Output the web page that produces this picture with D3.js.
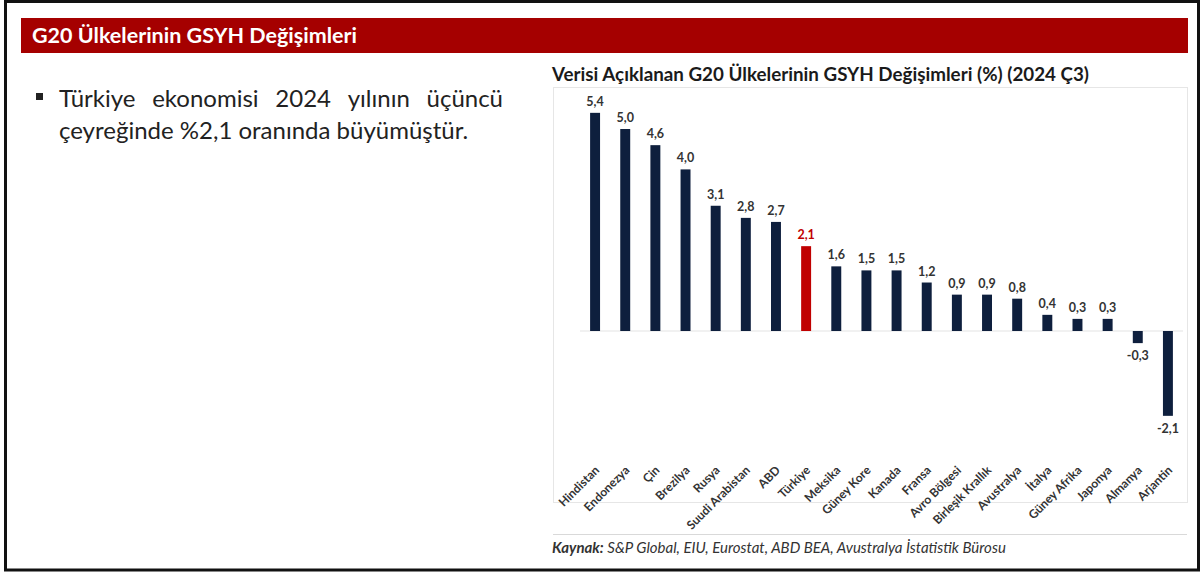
<!DOCTYPE html>
<html><head><meta charset="utf-8">
<script src="https://cdn.jsdelivr.net/npm/d3@7"></script>
<style>
html,body{margin:0;padding:0;background:#fff;}
svg{display:block;}
</style></head>
<body>
<svg id="c" width="1200" height="572"></svg>
<script>
const categories = ["Hindistan","Endonezya","Çin","Brezilya","Rusya","Suudi Arabistan","ABD","Türkiye","Meksika","Güney Kore","Kanada","Fransa","Avro Bölgesi","Birleşik Krallık","Avustralya","İtalya","Güney Afrika","Japonya","Almanya","Arjantin"];
const values = [5.4,5.0,4.6,4.0,3.1,2.8,2.7,2.1,1.6,1.5,1.5,1.2,0.9,0.9,0.8,0.4,0.3,0.3,-0.3,-2.1];
const valueLabels = ["5,4","5,0","4,6","4,0","3,1","2,8","2,7","2,1","1,6","1,5","1,5","1,2","0,9","0,9","0,8","0,4","0,3","0,3","-0,3","-2,1"];
const highlight = "Türkiye";
const headerText = "G20 Ülkelerinin GSYH Değişimleri";
const bulletLine1 = ["Türkiye","ekonomisi","2024","yılının","üçüncü"];
const bulletLine2 = "çeyreğinde %2,1 oranında büyümüştür.";
const chartTitle = "Verisi Açıklanan G20 Ülkelerinin GSYH Değişimleri (%) (2024 Ç3)";
const sourceBold = "Kaynak:";
const sourceRest = " S&P Global, EIU, Eurostat, ABD BEA, Avustralya İstatistik Bürosu";

const svg = d3.select("#c");
const F = "Lato, 'Open Sans', sans-serif";

// outer frame
svg.append("rect").attr("x",5.5).attr("y",1.5).attr("width",1193).attr("height",568.5)
  .attr("fill","none").attr("stroke","#111").attr("stroke-width",3);

// header bar
svg.append("rect").attr("x",21).attr("y",18).attr("width",1167).attr("height",35).attr("fill","#a50000");
svg.append("text").attr("x",32).attr("y",43).attr("fill","#fff").attr("font-family",F)
  .attr("font-weight","bold").attr("font-size",21.5).text(headerText);

// bullet
svg.append("rect").attr("x",36).attr("y",93).attr("width",7).attr("height",7).attr("fill","#222");
const l1 = svg.append("g");
const words = l1.selectAll("text").data(bulletLine1).join("text")
  .attr("y",107).attr("font-family",F).attr("font-size",24).attr("fill","#222").text(d=>d);
const widths = [];
words.each(function(){widths.push(this.getComputedTextLength());});
const x0 = 59, x1 = 503;
const gap = (x1 - x0 - d3.sum(widths)) / (bulletLine1.length - 1);
let cx = x0;
words.attr("x",(d,i)=>{const v=cx; cx+=widths[i]+gap; return v;});
svg.append("text").attr("x",59).attr("y",139).attr("font-family",F).attr("font-size",24)
  .attr("fill","#222").text(bulletLine2);

// chart title
svg.append("text").attr("x",552).attr("y",81).attr("font-family",F).attr("font-weight","bold")
  .attr("font-size",18.8).attr("fill","#1a1a1a").text(chartTitle);

// chart box
svg.append("rect").attr("x",553.5).attr("y",87.5).attr("width",634).attr("height",415)
  .attr("fill","none").attr("stroke","#e6e6e6").attr("stroke-width",1);
svg.append("line").attr("x1",553).attr("x2",1187).attr("y1",534.5).attr("y2",534.5)
  .attr("stroke","#d9d9d9");

const x = d3.scaleBand().domain(categories).range([580,1183]).paddingInner(0.67).paddingOuter(0.335);
const y = d3.scaleLinear().domain([-3,6]).range([452.2,88.6]);

svg.append("line").attr("x1",580).attr("x2",1183).attr("y1",y(0)).attr("y2",y(0))
  .attr("stroke","#e3e3e3");

const data = categories.map((c,i)=>({c, v:values[i], l:valueLabels[i]}));
svg.append("g").selectAll("rect").data(data).join("rect")
  .attr("x",d=>x(d.c)).attr("width",x.bandwidth())
  .attr("y",d=>y(Math.max(0,d.v))).attr("height",d=>Math.abs(y(d.v)-y(0)))
  .attr("fill",d=>d.c===highlight?"#c00000":"#0e1f3d");

svg.append("g").selectAll("text").data(data).join("text")
  .attr("x",d=>x(d.c)+x.bandwidth()/2)
  .attr("y",d=>d.v>=0 ? y(d.v)-7 : y(d.v)+17)
  .attr("text-anchor","middle").attr("font-family",F).attr("font-weight","bold")
  .attr("font-size",12.5).attr("fill",d=>d.c===highlight?"#c00000":"#333").text(d=>d.l);

// x axis labels
const ax = svg.append("g").attr("transform","translate(0,471)")
  .call(d3.axisBottom(x).tickSize(0).tickPadding(0));
ax.select(".domain").remove();
ax.selectAll("text").attr("font-family",F).attr("font-weight","bold").attr("font-size",12)
  .attr("fill","#333").attr("text-anchor","end").attr("dy",0).attr("y",0)
  .attr("transform","translate(5,0) rotate(-45)");

// source
const s = svg.append("text").attr("x",552).attr("y",553).attr("font-family",F)
  .attr("font-size",15).attr("font-style","italic").attr("fill","#333");
s.append("tspan").attr("font-weight","bold").text(sourceBold);
s.append("tspan").text(sourceRest);
</script>
</body></html>
